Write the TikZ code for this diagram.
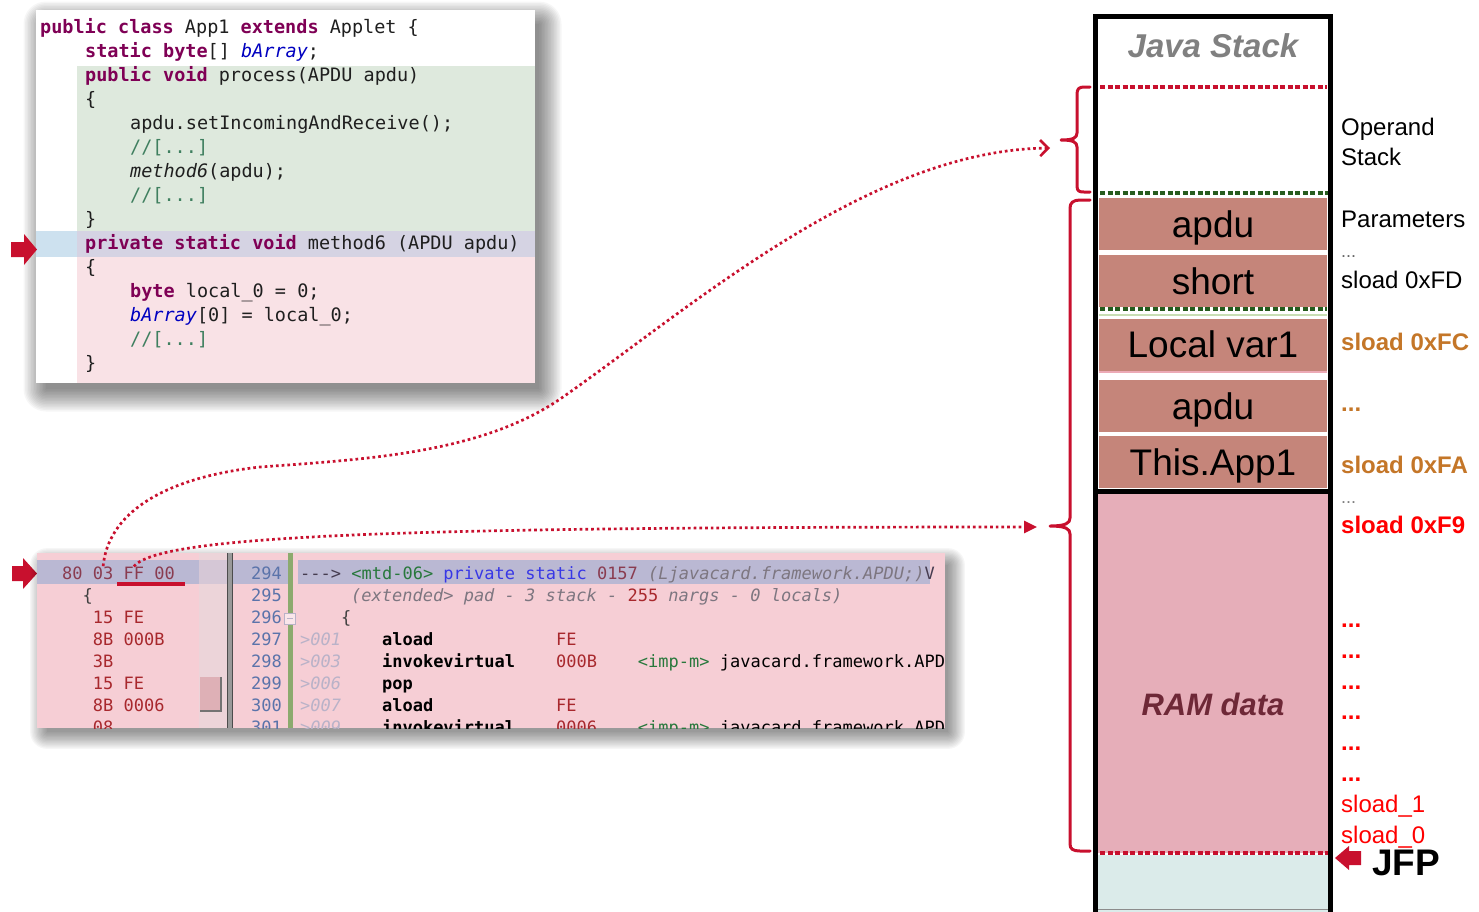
\documentclass[tikz,border=0pt]{standalone}
\usepackage{fontspec}
\setmainfont{Liberation Sans}
\newfontfamily\codefont{DejaVu Sans Mono}[
  BoldFont={DejaVu Sans Mono Bold},
  ItalicFont={DejaVu Sans Mono Oblique},
  BoldItalicFont={DejaVu Sans Mono Bold Oblique}]
\usetikzlibrary{arrows.meta}

% palette
\definecolor{jred}{RGB}{200,16,46}
\definecolor{jgreen}{RGB}{38,92,30}
\definecolor{cellc}{RGB}{197,133,122}
\definecolor{ramc}{RGB}{230,174,185}
\definecolor{basec}{RGB}{219,235,234}
\definecolor{ramtxt}{RGB}{110,40,55}
\definecolor{jgray}{RGB}{128,128,128}
\definecolor{ochre}{RGB}{196,118,40}
\definecolor{lred}{RGB}{255,0,0}
\definecolor{kwc}{RGB}{127,0,85}
\definecolor{fldc}{RGB}{0,0,192}
\definecolor{cmtc}{RGB}{63,127,95}
\definecolor{pgreen}{RGB}{222,233,221}
\definecolor{ppink}{RGB}{249,226,230}
\definecolor{plav}{RGB}{213,211,227}
\definecolor{pblue}{RGB}{205,225,239}
\definecolor{bpink}{RGB}{246,206,213}
\definecolor{blav}{RGB}{186,184,211}
\definecolor{scrollc}{RGB}{236,212,217}
\definecolor{thumbc}{RGB}{222,176,182}
\definecolor{hexhd}{RGB}{138,60,80}
\definecolor{hexc}{RGB}{168,40,45}
\definecolor{lnumc}{RGB}{90,115,170}
\definecolor{offc}{RGB}{185,178,200}
\definecolor{dgreen}{RGB}{40,120,60}
\definecolor{pblue2}{RGB}{55,55,230}
\definecolor{dgray}{RGB}{125,118,128}
\definecolor{arrowdark}{RGB}{70,60,80}
\definecolor{barc}{RGB}{140,170,110}

% source-code colouring
\newcommand\jkw[1]{{\bfseries\color{kwc}#1}}
\newcommand\jfld[1]{{\itshape\color{fldc}#1}}
\newcommand\jcmt[1]{{\color{cmtc}#1}}

\begin{document}
\begin{tikzpicture}[x=1pt,y=-1pt,
  code/.style={anchor=base west, inner sep=0pt, text=black!88,
    font=\codefont\fontsize{18.5}{22}\selectfont},
  bcode/.style={anchor=base west, inner sep=0pt,
    font=\codefont\fontsize{17}{20}\selectfont},
  lnum/.style={anchor=base east, inner sep=0pt, text=lnumc,
    font=\codefont\fontsize{17}{20}\selectfont},
  cell/.style={fill=cellc, minimum width=228pt, minimum height=52pt,
    inner sep=0pt, text height=32pt, text depth=6pt,
    font=\fontsize{37}{40}\selectfont},
  lab/.style={anchor=base west, inner sep=0pt,
    font=\fontsize{24}{28}\selectfont},
  redots/.style={jred, line width=4pt, dash pattern=on 5pt off 2.5pt},
  grdots/.style={jgreen, line width=4pt, dash pattern=on 5pt off 2.5pt},
  link/.style={jred, line width=2.7pt, dash pattern=on 2.7pt off 3pt},
  brace/.style={jred, line width=3pt, line cap=round, line join=round},
  blockarrow/.style={fill=jred, draw=none}
]
\useasboundingbox (0,0) rectangle (1479,911);

%--------------------------------------------------------------- source panel
% soft drop shadow: stacked, growing translucent rectangles
\foreach \i in {0,...,15}{
  \fill[black, opacity=0.035, rounded corners={1.5*\i}] ({46-1.5*\i},{24-1.5*\i}) rectangle ({539+1.5*\i},{389+1.5*\i});
}
\fill[white] (36,10) rectangle (535,383);
\fill[pgreen] (77,66) rectangle (535,231);
\fill[pblue] (36,231) rectangle (77,257);
\fill[plav] (77,231) rectangle (535,257);
\fill[ppink] (77,257) rectangle (535,383);

\node[code] (t1)  at (40,33)  {\jkw{public class} App1 \jkw{extends} Applet \{};
\node[code] (t2)  at (85,57)  {\jkw{static byte}[] \jfld{bArray};};
\node[code] (t3)  at (85,81)  {\jkw{public void} process(APDU apdu)};
\node[code] (t4)  at (85,105) {\{};
\node[code] (t5)  at (130,129) {apdu.setIncomingAndReceive();};
\node[code] (t6)  at (130,153) {\jcmt{//[...]}};
\node[code] (t7)  at (130,177) {{\itshape method6}(apdu);};
\node[code] (t8)  at (130,201) {\jcmt{//[...]}};
\node[code] (t9)  at (85,225) {\}};
\node[code] (t10) at (85,249) {\jkw{private static void} method6 (APDU apdu)};
\node[code] (t11) at (85,273) {\{};
\node[code] (t12) at (130,297) {\jkw{byte} local\_0 = 0;};
\node[code] (t13) at (130,321) {\jfld{bArray}[0] = local\_0;};
\node[code] (t14) at (130,345) {\jcmt{//[...]}};
\node[code] (t15) at (85,369) {\}};

% current-line markers
\fill[blockarrow] (11,242) -- (24,242) -- (24,234) -- (37,249.5) -- (24,265) -- (24,257) -- (11,257) -- cycle;
\fill[blockarrow] (12,566) -- (23,566) -- (23,558) -- (37,573.5) -- (23,589) -- (23,581) -- (12,581) -- cycle;

%--------------------------------------------------------------- bytecode panel
\foreach \i in {0,...,13}{
  \fill[black, opacity=0.035, rounded corners={1.3*\i}] ({47-1.3*\i},{565-1.3*\i}) rectangle ({948+1.3*\i},{732+1.3*\i});
}
\begin{scope}
\clip (37,553) rectangle (945,728);
\fill[bpink] (37,553) rectangle (945,728);
\fill[blav] (37,560) rectangle (199,584);
\fill[scrollc] (199,553) rectangle (227,728);
\fill[blav!45!scrollc] (199,560) rectangle (227,584);
\fill[thumbc] (200,677) rectangle (221,711);
\draw[black!55, line width=1.2pt] (221,677) -- (221,711) -- (200,711);
\fill[black!40] (227,553) rectangle (233,728);
\draw[black!70, line width=1.3pt] (227.5,553) -- (227.5,728) (232.5,553) -- (232.5,728);
\fill[blav] (233,560) rectangle (288,584);
\fill[barc] (288,553) rectangle (293,728);
\fill[blav] (298,560) rectangle (930,584);
\draw[offc, fill=bpink!50!white, line width=0.8pt] (284,613) rectangle (295,624);
\draw[offc, line width=1pt] (286.5,618.5) -- (292.5,618.5);

\node[bcode, text=hexhd] (b80) at (62,579) {80};
\node[bcode, text=hexhd] (b03) at (92.7,579) {03};
\node[bcode, text=hexhd] (bFF) at (123.4,579) {FF};
\node[bcode, text=hexhd] (b00) at (154.1,579) {00};
\node[bcode, text=black!75] (hbr) at (82.5,601) {\{};
\node[bcode, text=hexc] (h3) at (92.7,623) {15 FE};
\node[bcode, text=hexc] (h4) at (92.7,645) {8B 000B};
\node[bcode, text=hexc] (h5) at (92.7,667) {3B};
\node[bcode, text=hexc] (h6) at (92.7,689) {15 FE};
\node[bcode, text=hexc] (h7) at (92.7,711) {8B 0006};
\node[bcode, text=hexc] (h8) at (92.7,733) {08};

\node[lnum] (n294) at (282,579) {294};
\node[lnum] (n295) at (282,601) {295};
\node[lnum] (n296) at (282,623) {296};
\node[lnum] (n297) at (282,645) {297};
\node[lnum] (n298) at (282,667) {298};
\node[lnum] (n299) at (282,689) {299};
\node[lnum] (n300) at (282,711) {300};
\node[lnum] (n301) at (282,733) {301};

\node[bcode] (c1) at (300,579) {{\color{arrowdark}{-}{-}{-}>} {\color{dgreen}<mtd{-}06>} {\color{pblue2}private static} {\color{hexhd}0157} {\color{dgray}\itshape (Ljavacard.framework.APDU;)}{\color{arrowdark}V}};
\node[bcode, text=dgray] (c2) at (351,601) {\itshape (extended> pad {-} 3 stack {-} {\upshape\color{hexc}255} nargs {-} 0 locals)};
\node[bcode, text=black!75] (c3) at (341,623) {\{};
\node[bcode] (c4) at (300,645) {{\color{offc}\itshape >001}~~~~{\bfseries aload}~~~~~~~~~~~~{\color{hexc}FE}};
\node[bcode] (c5) at (300,667) {{\color{offc}\itshape >003}~~~~{\bfseries invokevirtual}~~~~{\color{hexc}000B}~~~~{\color{dgreen}<imp{-}m>} javacard.framework.APDU.setIncomingAndReceive()S};
\node[bcode] (c6) at (300,689) {{\color{offc}\itshape >006}~~~~{\bfseries pop}};
\node[bcode] (c7) at (300,711) {{\color{offc}\itshape >007}~~~~{\bfseries aload}~~~~~~~~~~~~{\color{hexc}FE}};
\node[bcode] (c8) at (300,733) {{\color{offc}\itshape >009}~~~~{\bfseries invokevirtual}~~~~{\color{hexc}0006}~~~~{\color{dgreen}<imp{-}m>} javacard.framework.APDU.getBuffer()[B};
\end{scope}
\draw[jred, line width=4pt] (117,583.5) -- (185,583.5);

%--------------------------------------------------------------- Java stack
\fill[ramc] (1098,494) rectangle (1328,853);
\fill[basec] (1098,855) rectangle (1328,915);
\draw[black!45, line width=1pt] (1098,909.5) -- (1328,909.5);

\node[cell] (sApdu)  at (1213,224) {apdu};
\node[cell] (sShort) at (1213,281) {short};
\node[cell] (sLocal) at (1213,344.5) {Local var1};
\node[cell] (sApdu2) at (1213,406) {apdu};
\node[cell] (sThis)  at (1213,462) {This.App1};
\draw[color={rgb,255:red,200;green,222;blue,180}, line width=2pt] (1099,315) -- (1327,315);
\draw[color={rgb,255:red,236;green,170;blue,182}, line width=1.5pt] (1099,372) -- (1327,372);

\draw[redots] (1100,87) -- (1327,87);
\draw[grdots] (1100,192.5) -- (1332,192.5);
\draw[grdots] (1100,309) -- (1327,309);
\draw[redots] (1100,853) -- (1330,853);

\draw[line width=5pt] (1093,491.5) -- (1332,491.5);
\draw[line width=5pt] (1095.5,925) -- (1095.5,16.5) -- (1330,16.5) -- (1330,925);

\node[anchor=base, inner sep=0pt, text=jgray, font=\fontsize{33}{36}\selectfont\bfseries\itshape] (jstack) at (1213,57) {Java Stack};
\node[anchor=base, inner sep=0pt, text=ramtxt, font=\fontsize{31}{34}\selectfont\bfseries\itshape] (ram) at (1213,715) {RAM data};

% braces
\draw[brace] (1090,87) -- (1084,87) .. controls (1079,87) and (1077,89) .. (1077,94)
  -- (1077,133) .. controls (1077,138) and (1073,140) .. (1061,140)
  .. controls (1073,140) and (1077,142) .. (1077,147)
  -- (1077,186) .. controls (1077,191) and (1079,192) .. (1084,192) -- (1090,192);
\draw[brace] (1090,200) -- (1080,200) .. controls (1073,200) and (1070,203) .. (1070,208)
  -- (1070,518) .. controls (1070,523) and (1066,526) .. (1050,526)
  .. controls (1066,526) and (1070,529) .. (1070,534)
  -- (1070,844) .. controls (1070,849) and (1073,851) .. (1080,851) -- (1090,851);
\coordinate (opTip) at (1050,148);
\coordinate (ramTip) at (1037,527);

% labels beside the stack
\node[lab] (lOp)  at (1341,135) {Operand};
\node[lab] (lSt)  at (1341,165) {Stack};
\node[lab] (lPar) at (1341,227) {Parameters};
\node[lab, text=black!60, font=\fontsize{18}{20}\selectfont] (lD1) at (1341,257) {...};
\node[lab] (lFD)  at (1341,288) {sload 0xFD};
\node[lab, text=ochre, font=\fontsize{24}{28}\selectfont\bfseries] (lFC) at (1341,350) {sload 0xFC};
\node[lab, text=ochre, font=\fontsize{24}{28}\selectfont\bfseries] (lD2) at (1341,411) {...};
\node[lab, text=ochre, font=\fontsize{24}{28}\selectfont\bfseries] (lFA) at (1341,473) {sload 0xFA};
\node[lab, text=black!50, font=\fontsize{18}{20}\selectfont] (lD3) at (1341,503) {...};
\node[lab, text=lred, font=\fontsize{24}{28}\selectfont\bfseries] (lF9) at (1341,533) {sload 0xF9};
\foreach \yy/\k in {627/1,658/2,689/3,719/4,750/5,781/6}{
  \node[lab, text=lred, font=\fontsize{24}{28}\selectfont\bfseries] (lR\k) at (1341,\yy) {...};
}
\node[lab, text=lred] (lS1) at (1341,812) {sload\_1};
\node[lab, text=lred] (lS0) at (1341,843) {sload\_0};
\fill[blockarrow] (1335,858) -- (1349,846) -- (1349,851) -- (1361,851) -- (1361,865) -- (1349,865) -- (1349,870) -- cycle;
\node[anchor=base west, inner sep=0pt, font=\fontsize{37}{40}\selectfont\bfseries] (jfp) at (1372,875) {JFP};

%--------------------------------------------------------------- links
\draw[link, -{Straight Barb[length=8pt, width=16pt, line width=2.6pt]}]
  (b03.north) .. controls (108,515) and (160,478) .. (260,467)
  .. controls (370,459) and (483,453) .. (563,397)
  .. controls (693,306) and (870,150) .. (opTip);
\draw[link, -{Triangle[length=13pt, width=12pt]}]
  (bFF.north) .. controls (160,535) and (400,527) .. (ramTip);
\end{tikzpicture}
\end{document}
